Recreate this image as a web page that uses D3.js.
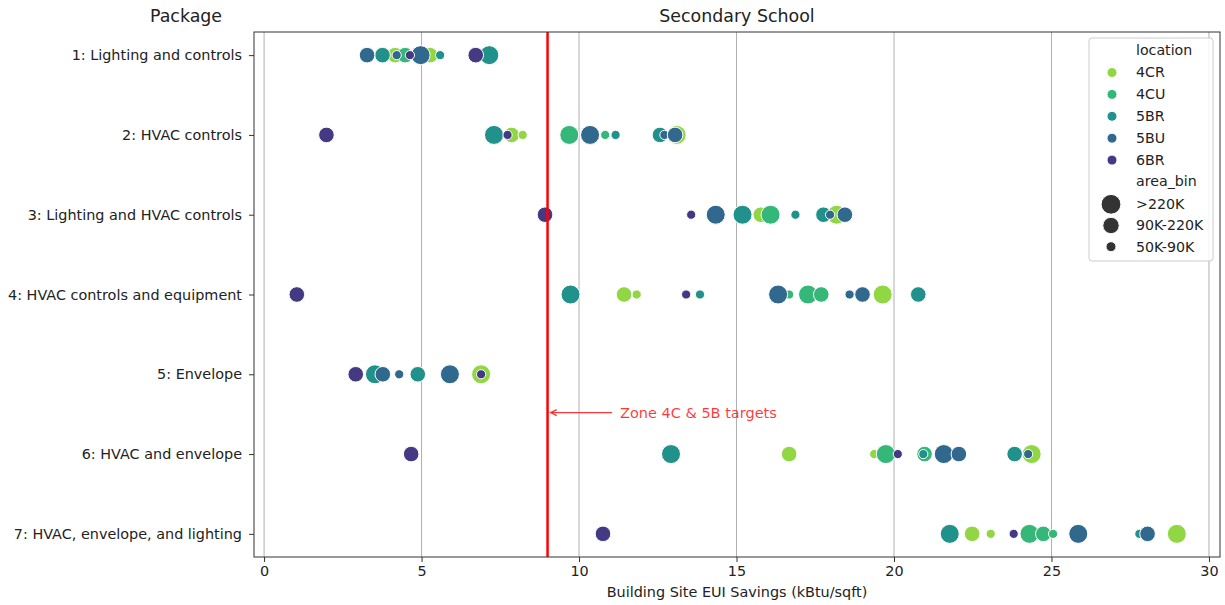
<!DOCTYPE html>
<html>
<head>
<meta charset="utf-8">
<script src="https://cdn.jsdelivr.net/npm/d3@7/dist/d3.min.js"></script>
<style>
  body { margin: 0; background: #fff; }
  svg { display: block; font-family: "DejaVu Sans", sans-serif; }
</style>
</head>
<body>
<svg id="chart" width="1225" height="605"></svg>
<script>
// ---- Data ----
const packages = [
  "1: Lighting and controls",
  "2: HVAC controls",
  "3: Lighting and HVAC controls",
  "4: HVAC controls and equipment",
  "5: Envelope",
  "6: HVAC and envelope",
  "7: HVAC, envelope, and lighting"
];
const locations = ["4CR", "4CU", "5BR", "5BU", "6BR"];
const locationColors = ["#90d743", "#35b779", "#21918c", "#31688e", "#443983"];
const areaBins = [">220K", "90K-220K", "50K-90K"];
const xTicks = [0, 5, 10, 15, 20, 25, 30];
const targetValue = 9;
const targetLabel = "Zone 4C & 5B targets";

// [package index (1-based), savings kBtu/sqft, area bin]
const loc4CR = [
  [1, 4.16, "90K-220K"], [1, 5.27, "90K-220K"],
  [2, 7.86, "90K-220K"], [2, 8.21, "50K-90K"], [2, 13.10, ">220K"],
  [3, 15.77, "90K-220K"], [3, 18.18, ">220K"],
  [4, 11.43, "90K-220K"], [4, 11.83, "50K-90K"], [4, 19.64, ">220K"],
  [5, 6.89, ">220K"],
  [6, 16.67, "90K-220K"], [6, 19.37, "50K-90K"], [6, 24.37, ">220K"],
  [7, 22.48, "90K-220K"], [7, 23.07, "50K-90K"], [7, 28.98, ">220K"]
];
const loc4CU = [
  [1, 4.48, "90K-220K"],
  [2, 9.69, ">220K"], [2, 10.83, "50K-90K"],
  [3, 16.08, ">220K"],
  [4, 16.67, "50K-90K"], [4, 17.27, ">220K"], [4, 17.69, "90K-220K"],
  [6, 19.74, ">220K"], [6, 20.97, "90K-220K"],
  [7, 24.30, ">220K"], [7, 24.74, "90K-220K"], [7, 25.05, "50K-90K"]
];
const loc5BR = [
  [1, 3.76, "90K-220K"], [1, 5.59, "50K-90K"], [1, 7.15, ">220K"],
  [2, 7.30, ">220K"], [2, 11.16, "50K-90K"], [2, 12.57, "90K-220K"],
  [3, 15.19, ">220K"], [3, 16.87, "50K-90K"], [3, 17.76, "90K-220K"],
  [4, 9.73, ">220K"], [4, 13.84, "50K-90K"], [4, 20.77, "90K-220K"],
  [5, 3.52, ">220K"], [5, 4.88, "90K-220K"],
  [6, 12.92, ">220K"], [6, 20.93, "50K-90K"], [6, 23.83, "90K-220K"],
  [7, 21.77, ">220K"], [7, 27.79, "50K-90K"]
];
const loc5BU = [
  [1, 3.27, "90K-220K"], [1, 4.21, "50K-90K"], [1, 4.97, ">220K"],
  [2, 10.35, ">220K"], [2, 12.71, "50K-90K"], [2, 13.05, "90K-220K"],
  [3, 14.34, ">220K"], [3, 17.97, "50K-90K"], [3, 18.44, "90K-220K"],
  [4, 16.32, ">220K"], [4, 18.59, "50K-90K"], [4, 19.00, "90K-220K"],
  [5, 3.77, "90K-220K"], [5, 4.29, "50K-90K"], [5, 5.90, ">220K"],
  [6, 21.58, ">220K"], [6, 22.06, "90K-220K"], [6, 24.26, "50K-90K"],
  [7, 25.85, ">220K"], [7, 28.05, "90K-220K"]
];
const loc6BR = [
  [1, 4.63, "50K-90K"], [1, 6.72, "90K-220K"],
  [2, 1.98, "90K-220K"], [2, 7.73, "50K-90K"],
  [3, 8.92, "90K-220K"], [3, 13.56, "50K-90K"],
  [4, 1.04, "90K-220K"], [4, 13.40, "50K-90K"],
  [5, 2.91, "90K-220K"], [5, 6.89, "50K-90K"],
  [6, 4.67, "90K-220K"], [6, 20.12, "50K-90K"],
  [7, 10.76, "90K-220K"], [7, 23.80, "50K-90K"]
];
const seriesByLocation = [loc4CR, loc4CU, loc5BR, loc5BU, loc6BR];

// ---- Layout ----
const svg = d3.select("#chart");
const plot = { left: 254, right: 1220, top: 32, bottom: 557 };

const x = d3.scaleLinear().domain([-0.32, 30.35]).range([plot.left, plot.right]);
const y = d3.scalePoint().domain(packages).range([plot.top, plot.bottom]).padding(0.29);
const color = d3.scaleOrdinal().domain(locations).range(locationColors);
const radius = d3.scaleOrdinal().domain(areaBins).range([9.5, 7.8, 4.6]);

// grid
svg.append("g").selectAll("line").data(xTicks).join("line")
  .attr("x1", d => x(d)).attr("x2", d => x(d))
  .attr("y1", plot.top).attr("y2", plot.bottom)
  .attr("stroke", "#b0b0b0").attr("stroke-width", 1);

// axes
const xAxis = svg.append("g")
  .attr("transform", `translate(0,${plot.bottom})`)
  .call(d3.axisBottom(x).tickValues(xTicks).tickSize(5).tickPadding(4));
const yAxis = svg.append("g")
  .attr("transform", `translate(${plot.left},0)`)
  .call(d3.axisLeft(y).tickSize(5).tickPadding(7));
[xAxis, yAxis].forEach(g => {
  g.select(".domain").remove();
  g.selectAll(".tick line").attr("stroke", "#333");
  g.selectAll(".tick text").attr("fill", "#222").style("font-size", "14.4px")
    .style("font-family", "DejaVu Sans, sans-serif");
});

// points (drawn in location order)
const points = [];
seriesByLocation.forEach((arr, i) => {
  arr.forEach(([p, v, bin]) => points.push({ pkg: packages[p - 1], v, bin, loc: locations[i] }));
});
svg.append("g").selectAll("circle").data(points).join("circle")
  .attr("cx", d => x(d.v)).attr("cy", d => y(d.pkg))
  .attr("r", d => radius(d.bin))
  .attr("fill", d => color(d.loc))
  .attr("stroke", "#fff").attr("stroke-width", 1);

// target line
svg.append("line")
  .attr("x1", x(targetValue)).attr("x2", x(targetValue))
  .attr("y1", plot.top).attr("y2", plot.bottom)
  .attr("stroke", "#ff0000").attr("stroke-width", 2.5);

// annotation
const annY = y(packages[4]) + y.step() * 0.48;
const tipX = x(targetValue + 0.1);
const tailX = x(11.05);
const annColor = "rgba(255,0,0,0.78)";
svg.append("line").attr("x1", tailX).attr("x2", tipX + 1).attr("y1", annY).attr("y2", annY)
  .attr("stroke", annColor).attr("stroke-width", 1.3);
svg.append("path")
  .attr("d", `M${tipX + 6},${annY - 3} L${tipX},${annY} L${tipX + 6},${annY + 3}`)
  .attr("fill", "none").attr("stroke", annColor).attr("stroke-width", 1.3);
svg.append("text").attr("x", x(11.3)).attr("y", annY).attr("dy", "0.35em")
  .attr("fill", annColor).style("font-size", "14.5px").text(targetLabel);

// frame
svg.append("rect")
  .attr("x", plot.left).attr("y", plot.top)
  .attr("width", plot.right - plot.left).attr("height", plot.bottom - plot.top)
  .attr("fill", "none").attr("stroke", "#333").attr("stroke-width", 1);

// titles
svg.append("text").attr("x", (plot.left + plot.right) / 2).attr("y", 22)
  .attr("text-anchor", "middle").attr("fill", "#222").style("font-size", "17.4px").text("Secondary School");
svg.append("text").attr("x", 186).attr("y", 22)
  .attr("text-anchor", "middle").attr("fill", "#222").style("font-size", "17.4px").text("Package");
svg.append("text").attr("x", (plot.left + plot.right) / 2).attr("y", 597)
  .attr("text-anchor", "middle").attr("fill", "#222").style("font-size", "14.4px")
  .text("Building Site EUI Savings (kBtu/sqft)");

// legend
const lg = svg.append("g");
lg.append("rect").attr("x", 1089).attr("y", 38).attr("width", 124).attr("height", 223)
  .attr("rx", 3).attr("fill", "rgba(255,255,255,0.85)").attr("stroke", "#cccccc").attr("stroke-width", 1);
const legTextX = 1136, legMarkX = 1111;
const legFont = "14.2px";
lg.append("text").attr("x", legTextX).attr("y", 50).attr("dy", "0.35em")
  .style("font-size", legFont).attr("fill", "#222").text("location");
locations.forEach((loc, i) => {
  const yy = 72.5 + i * 21.9;
  lg.append("circle").attr("cx", legMarkX + 1).attr("cy", yy).attr("r", 5)
    .attr("fill", color(loc)).attr("stroke", "#fff").attr("stroke-width", 1);
  lg.append("text").attr("x", legTextX).attr("y", yy).attr("dy", "0.35em")
    .style("font-size", legFont).attr("fill", "#222").text(loc);
});
lg.append("text").attr("x", legTextX).attr("y", 181.5).attr("dy", "0.35em")
  .style("font-size", legFont).attr("fill", "#222").text("area_bin");
areaBins.forEach((b, i) => {
  const yy = 204.3 + i * 21.2;
  lg.append("circle").attr("cx", legMarkX).attr("cy", yy).attr("r", radius(b) + 0.4)
    .attr("fill", "#333").attr("stroke", "#fff").attr("stroke-width", 1);
  lg.append("text").attr("x", legTextX).attr("y", yy).attr("dy", "0.35em")
    .style("font-size", legFont).attr("fill", "#222").text(b);
});
</script>
</body>
</html>
